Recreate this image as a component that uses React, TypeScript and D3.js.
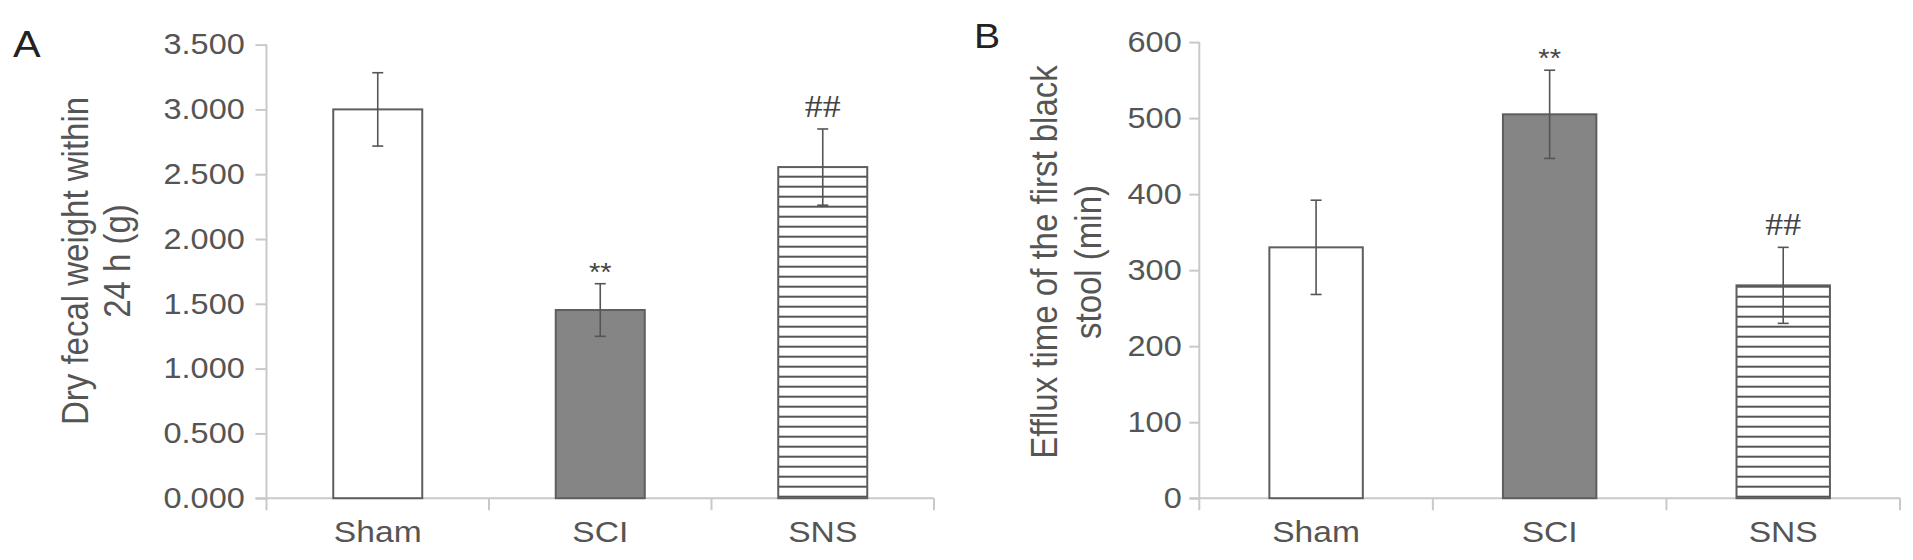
import React, { useRef, useEffect } from "react";
import * as d3 from "d3";

// groups on the x axis
const categories = ["Sham", "SCI", "SNS"];

// panel A: dry fecal weight (g), mean and error
const fecalWeight = [3.0, 1.452, 2.555];
const fecalWeightErr = [0.283, 0.203, 0.294];
const fecalTicks = [0, 0.5, 1, 1.5, 2, 2.5, 3, 3.5];

// panel B: efflux time of first black stool (min)
const effluxTime = [330, 505, 280];
const effluxTimeErr = [62, 58, 50];
const effluxTicks = [0, 100, 200, 300, 400, 500, 600];

// significance marks above each bar
const marks = ["", "**", "##"];

const width = 1913;
const height = 560;
const stretch = 1.12; // the original figure is a bit wider than tall
const textColor = "#555";
const axisColor = "#c9c9c9";
const font = "'Liberation Sans', Arial, Helvetica, sans-serif";
const barFills = ["#ffffff", "#858585", "url(#hatch)"];

function drawPanel(svg, p) {
  const g = svg.append("g");

  const y = d3
    .scaleLinear()
    .domain([0, d3.max(p.ticks)])
    .range([p.bottom, p.top]);

  const x = d3
    .scaleBand()
    .domain(categories)
    .range([p.left, p.right])
    .paddingInner(0.6)
    .paddingOuter(0.3);

  // y axis with ticks
  const yAxis = g
    .append("g")
    .attr("transform", `translate(${p.left},0)`)
    .call(
      d3
        .axisLeft(y)
        .tickValues(p.ticks)
        .tickFormat(p.fmt)
        .tickSize(p.tickLen)
        .tickSizeOuter(0)
        .tickPadding(p.tickPad)
    );
  yAxis.select(".domain").remove();
  yAxis.selectAll(".tick line").attr("stroke", axisColor).attr("stroke-width", 2);
  yAxis
    .selectAll(".tick text")
    .attr("font-family", font)
    .attr("font-size", 29)
    .attr("fill", textColor)
    .attr("transform", `scale(${stretch},1)`);

  g.append("line")
    .attr("x1", p.left)
    .attr("x2", p.left)
    .attr("y1", p.top)
    .attr("y2", p.bottom + 12)
    .attr("stroke", axisColor)
    .attr("stroke-width", 2);

  // x axis line and category separators
  g.append("line")
    .attr("x1", p.left - p.tickLen)
    .attr("x2", p.right)
    .attr("y1", p.bottom)
    .attr("y2", p.bottom)
    .attr("stroke", axisColor)
    .attr("stroke-width", 2);

  g.selectAll(".sep")
    .data(d3.range(1, categories.length + 1))
    .enter()
    .append("line")
    .attr("x1", (i) => p.left + i * x.step())
    .attr("x2", (i) => p.left + i * x.step())
    .attr("y1", p.bottom)
    .attr("y2", p.bottom + 12)
    .attr("stroke", axisColor)
    .attr("stroke-width", 2);

  // bars
  g.selectAll(".bar")
    .data(p.values)
    .enter()
    .append("rect")
    .attr("x", (d, i) => x(categories[i]))
    .attr("y", (d) => y(d))
    .attr("width", x.bandwidth())
    .attr("height", (d) => p.bottom - y(d))
    .attr("fill", (d, i) => barFills[i])
    .attr("stroke", "#5e5e5e")
    .attr("stroke-width", 2);

  // error bars
  const cx = (i) => x(categories[i]) + x.bandwidth() / 2;
  const err = g
    .selectAll(".err")
    .data(p.values)
    .enter()
    .append("g")
    .attr("stroke", "#555")
    .attr("stroke-width", 1.6);
  err
    .append("line")
    .attr("x1", (d, i) => cx(i))
    .attr("x2", (d, i) => cx(i))
    .attr("y1", (d, i) => y(d + p.errors[i]))
    .attr("y2", (d, i) => y(d - p.errors[i]));
  [1, -1].forEach((s) => {
    err
      .append("line")
      .attr("x1", (d, i) => cx(i) - 5.5)
      .attr("x2", (d, i) => cx(i) + 5.5)
      .attr("y1", (d, i) => y(d + s * p.errors[i]))
      .attr("y2", (d, i) => y(d + s * p.errors[i]));
  });

  // significance marks
  g.selectAll(".mark")
    .data(p.values)
    .enter()
    .append("text")
    .attr("transform", (d, i) => {
      const top = y(d + p.errors[i]);
      const by = marks[i] === "##" ? top - 12 : top - 3;
      return `translate(${cx(i)},${by}) scale(${stretch},1)`;
    })
    .attr("text-anchor", "middle")
    .attr("font-family", (d, i) =>
      marks[i] === "##" ? "'Liberation Serif', 'Times New Roman', serif" : font
    )
    .attr("font-size", (d, i) => (marks[i] === "##" ? 32 : 26))
    .attr("fill", "#444")
    .text((d, i) => marks[i]);

  // category labels
  g.selectAll(".cat")
    .data(categories)
    .enter()
    .append("text")
    .attr("transform", (d) => `translate(${x(d) + x.bandwidth() / 2},542) scale(${stretch},1)`)
    .attr("text-anchor", "middle")
    .attr("font-family", font)
    .attr("font-size", 30)
    .attr("fill", textColor)
    .text((d) => d);

  // y axis title, two lines
  g.selectAll(".ytitle")
    .data(p.title)
    .enter()
    .append("text")
    .attr(
      "transform",
      (d, i) => `translate(${p.titleX + i * p.titleGap},${p.titleY}) scale(${stretch},1) rotate(-90)`
    )
    .attr("text-anchor", "middle")
    .attr("font-family", font)
    .attr("font-size", 33)
    .attr("fill", textColor)
    .text((d) => d);

  // panel letter
  g.append("text")
    .attr("transform", `translate(${p.letterX},${p.letterY}) scale(${stretch},1)`)
    .attr("font-family", font)
    .attr("font-size", p.letterSize)
    .attr("fill", "#222")
    .text(p.letter);
}

const App = () => {
  const container = useRef(null);

  useEffect(() => {
    const svg = d3.select(container.current);
    svg.selectAll("*").remove();

    // horizontal hatch used by the SNS bars
    const pat = svg
      .append("defs")
      .append("pattern")
      .attr("id", "hatch")
      .attr("patternUnits", "userSpaceOnUse")
      .attr("x", 0)
      .attr("y", 491.7)
      .attr("width", 20)
      .attr("height", 10);
    pat.append("rect").attr("width", 20).attr("height", 10).attr("fill", "#fff");
    pat
      .append("line")
      .attr("x1", 0)
      .attr("x2", 20)
      .attr("y1", 5)
      .attr("y2", 5)
      .attr("stroke", "#555")
      .attr("stroke-width", 2);

    drawPanel(svg, {
      letter: "A",
      letterX: 13,
      letterY: 57,
      letterSize: 37,
      left: 266.5,
      right: 934,
      top: 44.6,
      bottom: 498.2,
      ticks: fecalTicks,
      fmt: d3.format(".3f"),
      tickLen: 11,
      tickPad: 8.4,
      values: fecalWeight,
      errors: fecalWeightErr,
      title: ["Dry fecal weight within", "24 h (g)"],
      titleX: 88,
      titleGap: 42,
      titleY: 261,
    });

    drawPanel(svg, {
      letter: "B",
      letterX: 974,
      letterY: 48,
      letterSize: 35,
      left: 1199.3,
      right: 1900,
      top: 42.1,
      bottom: 498.2,
      ticks: effluxTicks,
      fmt: d3.format("d"),
      tickLen: 10,
      tickPad: 5.7,
      values: effluxTime,
      errors: effluxTimeErr,
      title: ["Efflux time of the first black", "stool (min)"],
      titleX: 1057,
      titleGap: 44,
      titleY: 262,
    });
  }, []);

  return (
    <svg
      ref={container}
      width={width}
      height={height}
      style={{ position: "absolute", left: 0, top: 0, background: "#fff" }}
    />
  );
};

export default App;
